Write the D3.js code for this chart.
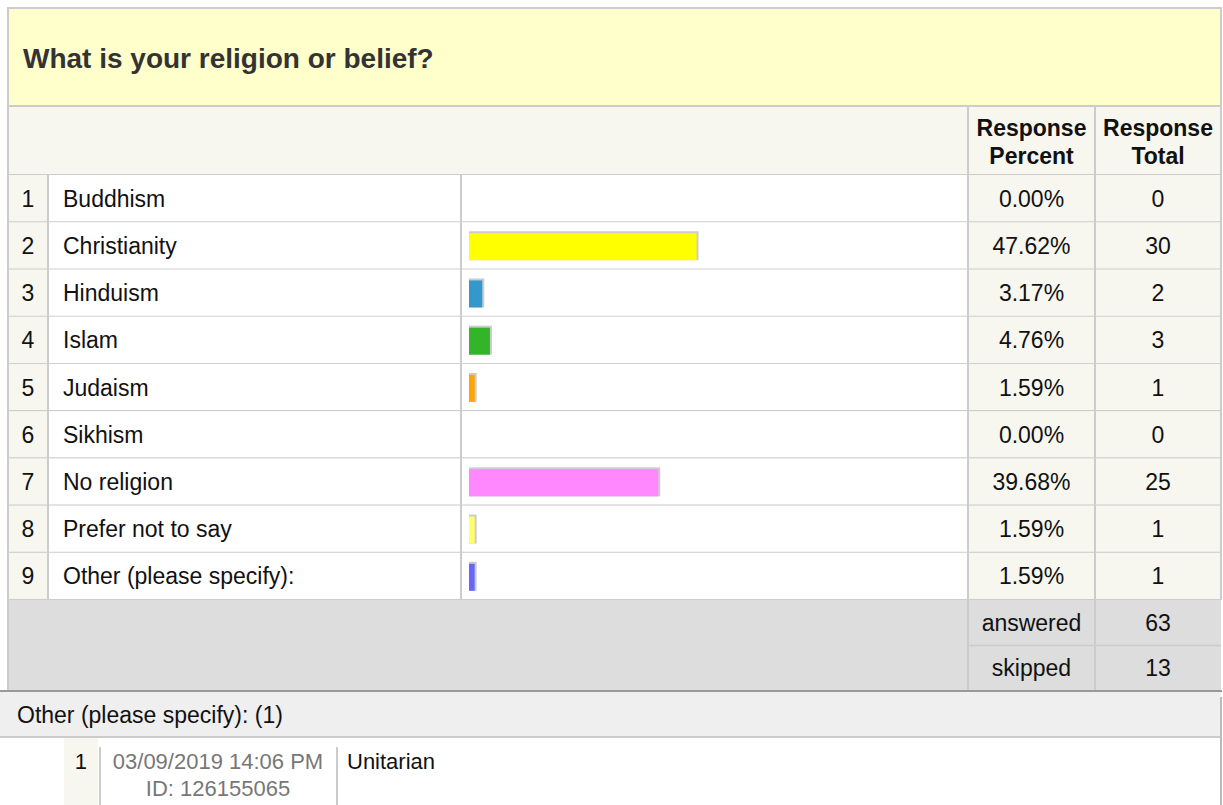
<!DOCTYPE html>
<html>
<head>
<meta charset="utf-8">
<script src="https://cdn.jsdelivr.net/npm/d3@7"></script>
<style>
  body { margin: 0; background: #fff; }
  svg { display: block; font-family: "Liberation Sans", Arial, sans-serif; }
</style>
</head>
<body>
<div id="chart"></div>
<script>
var question = "What is your religion or belief?";
var categories = ["Buddhism", "Christianity", "Hinduism", "Islam", "Judaism",
  "Sikhism", "No religion", "Prefer not to say", "Other (please specify):"];
var percents = [0.00, 47.62, 3.17, 4.76, 1.59, 0.00, 39.68, 1.59, 1.59];
var totals = [0, 30, 2, 3, 1, 0, 25, 1, 1];
var barColors = ["#cccccc", "#ffff00", "#3399cc", "#33b52a", "#ffa500",
  "#cccccc", "#ff88ff", "#ffff66", "#6666ff"];
var summaryLabels = ["answered", "skipped"];
var summaryValues = [63, 13];
var otherTitle = "Other (please specify): (1)";
var otherDates = ["03/09/2019 14:06 PM"];
var otherIds = ["ID: 126155065"];
var otherTexts = ["Unitarian"];

var W = 1223, H = 805;
var line = "#cccccc";
var cream = "#f7f7ef";

var svg = d3.select("#chart").append("svg")
  .attr("width", W).attr("height", H);

// column edges
var L = 8, R = 1221;
var cNum = 48, cLabel = 461, cBar = 968, cPct = 1095;

var rows = categories.map(function(c, i){
  return {name: c, pct: percents[i], total: totals[i], color: barColors[i], n: i + 1};
});

var y = d3.scaleBand().domain(categories).range([175, 600]);
var x = d3.scaleLinear().domain([0, 100]).range([0, 482]);

// title box
svg.append("rect").attr("x", L).attr("y", 8).attr("width", R - L).attr("height", 98)
  .attr("fill", "#ffffcc").attr("stroke", line).attr("stroke-width", 2);
svg.append("text").attr("x", 23).attr("y", 58).attr("dy", "0.35em")
  .attr("font-size", 28).attr("font-weight", "bold").attr("fill", "#333")
  .text(question);

// header row
svg.append("rect").attr("x", L).attr("y", 106).attr("width", R - L).attr("height", 69)
  .attr("fill", cream).attr("stroke", line).attr("stroke-width", 2);
[[(cBar + cPct) / 2, ["Response", "Percent"]], [(cPct + R) / 2, ["Response", "Total"]]]
  .forEach(function(h){
    svg.append("text").attr("x", h[0]).attr("y", 128).attr("dy", "0.35em")
      .attr("text-anchor", "middle").attr("font-size", 23).attr("font-weight", "bold")
      .attr("fill", "#111").text(h[1][0]);
    svg.append("text").attr("x", h[0]).attr("y", 156).attr("dy", "0.35em")
      .attr("text-anchor", "middle").attr("font-size", 23).attr("font-weight", "bold")
      .attr("fill", "#111").text(h[1][1]);
  });
svg.append("line").attr("x1", cBar).attr("x2", cBar).attr("y1", 106).attr("y2", 175)
  .attr("stroke", line).attr("stroke-width", 2);
svg.append("line").attr("x1", cPct).attr("x2", cPct).attr("y1", 106).attr("y2", 175)
  .attr("stroke", line).attr("stroke-width", 2);

// body rows
var g = svg.selectAll("g.row").data(rows).enter().append("g").attr("class", "row")
  .attr("transform", function(d){ return "translate(0," + y(d.name) + ")"; });
var bh = y.bandwidth();

g.append("rect").attr("x", L).attr("width", cNum - L).attr("height", bh).attr("fill", cream);
g.append("rect").attr("x", cNum).attr("width", cBar - cNum).attr("height", bh).attr("fill", "#fff");
g.append("rect").attr("x", cBar).attr("width", R - cBar).attr("height", bh).attr("fill", cream);

// bars: grey shadow behind, colour on top
g.filter(function(d){ return d.pct > 0; }).append("rect")
  .attr("x", 469).attr("y", 9).attr("width", function(d){ return x(d.pct); })
  .attr("height", 29).attr("fill", "#cccccc");
g.filter(function(d){ return d.pct > 0; }).append("rect")
  .attr("x", 469).attr("y", 11).attr("width", function(d){ return x(d.pct) - 2; })
  .attr("height", 27).attr("fill", function(d){ return d.color; });

g.append("text").attr("x", 28).attr("y", bh / 2).attr("dy", "0.35em")
  .attr("text-anchor", "middle").attr("font-size", 23).attr("fill", "#111")
  .text(function(d){ return d.n; });
g.append("text").attr("x", 63).attr("y", bh / 2).attr("dy", "0.35em")
  .attr("font-size", 23).attr("fill", "#111").text(function(d){ return d.name; });
g.append("text").attr("x", (cBar + cPct) / 2).attr("y", bh / 2).attr("dy", "0.35em")
  .attr("text-anchor", "middle").attr("font-size", 23).attr("fill", "#111")
  .text(function(d){ return d.pct.toFixed(2) + "%"; });
g.append("text").attr("x", (cPct + R) / 2).attr("y", bh / 2).attr("dy", "0.35em")
  .attr("text-anchor", "middle").attr("font-size", 23).attr("fill", "#111")
  .text(function(d){ return d.total; });

// grid lines
g.append("line").attr("x1", L).attr("x2", R).attr("y1", bh).attr("y2", bh)
  .attr("stroke", line).attr("stroke-width", 2);
[L, cNum, cLabel, cBar, cPct, R].forEach(function(cx){
  svg.append("line").attr("x1", cx).attr("x2", cx).attr("y1", 175).attr("y2", 600)
    .attr("stroke", line).attr("stroke-width", 2);
});

// answered / skipped
var sy = d3.scaleBand().domain(summaryLabels).range([600, 691]);
svg.append("rect").attr("x", L).attr("y", 600).attr("width", R - L).attr("height", 91)
  .attr("fill", "#dddddd");
summaryLabels.forEach(function(s, i){
  var yy = sy(s) + sy.bandwidth() / 2;
  svg.append("text").attr("x", (cBar + cPct) / 2).attr("y", yy).attr("dy", "0.35em")
    .attr("text-anchor", "middle").attr("font-size", 23).attr("fill", "#111").text(s);
  svg.append("text").attr("x", (cPct + R) / 2).attr("y", yy).attr("dy", "0.35em")
    .attr("text-anchor", "middle").attr("font-size", 23).attr("fill", "#111").text(summaryValues[i]);
});
svg.append("line").attr("x1", cBar).attr("x2", R).attr("y1", sy("skipped")).attr("y2", sy("skipped"))
  .attr("stroke", line).attr("stroke-width", 1.5);
[cBar, cPct].forEach(function(cx){
  svg.append("line").attr("x1", cx).attr("x2", cx).attr("y1", 600).attr("y2", 691)
    .attr("stroke", line).attr("stroke-width", 2);
});
svg.append("line").attr("x1", L).attr("x2", L).attr("y1", 600).attr("y2", 691)
  .attr("stroke", line).attr("stroke-width", 2);
svg.append("line").attr("x1", 0).attr("x2", R + 1).attr("y1", 691).attr("y2", 691)
  .attr("stroke", "#999999").attr("stroke-width", 2);

// other responses
svg.append("rect").attr("x", 0).attr("y", 692).attr("width", R).attr("height", 45)
  .attr("fill", "#efefef");
svg.append("line").attr("x1", 0).attr("x2", R).attr("y1", 737).attr("y2", 737)
  .attr("stroke", line).attr("stroke-width", 2);
svg.append("text").attr("x", 17).attr("y", 715).attr("dy", "0.35em")
  .attr("font-size", 23).attr("fill", "#111").text(otherTitle);
svg.append("line").attr("x1", R).attr("x2", R).attr("y1", 697).attr("y2", H)
  .attr("stroke", "#bbbbbb").attr("stroke-width", 2);

otherTexts.forEach(function(t, i){
  svg.append("rect").attr("x", 64).attr("y", 738).attr("width", 34).attr("height", H - 738)
    .attr("fill", cream);
  svg.append("text").attr("x", 87).attr("y", 761).attr("dy", "0.35em")
    .attr("text-anchor", "end").attr("font-size", 22).attr("fill", "#111").text(i + 1);
  svg.append("line").attr("x1", 100).attr("x2", 100).attr("y1", 747).attr("y2", H)
    .attr("stroke", line).attr("stroke-width", 2);
  svg.append("text").attr("x", 218).attr("y", 761).attr("dy", "0.35em")
    .attr("text-anchor", "middle").attr("font-size", 22).attr("fill", "#777").text(otherDates[i]);
  svg.append("text").attr("x", 218).attr("y", 788).attr("dy", "0.35em")
    .attr("text-anchor", "middle").attr("font-size", 22).attr("fill", "#777").text(otherIds[i]);
  svg.append("line").attr("x1", 337).attr("x2", 337).attr("y1", 747).attr("y2", H)
    .attr("stroke", line).attr("stroke-width", 2);
  svg.append("text").attr("x", 347).attr("y", 761).attr("dy", "0.35em")
    .attr("font-size", 22).attr("fill", "#111").text(t);
});
</script>
</body>
</html>
